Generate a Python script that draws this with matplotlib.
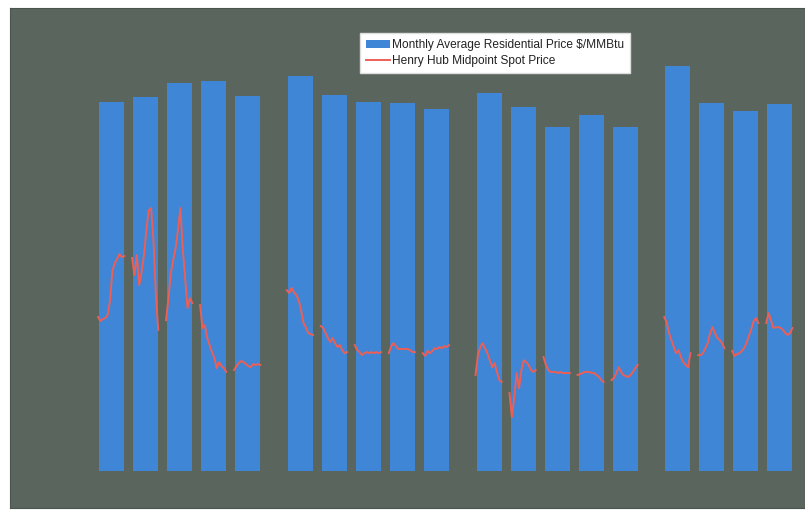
import numpy as np
import matplotlib
matplotlib.use("Agg")
import matplotlib.pyplot as plt

# bars: one per year, 4 groups (5, 5, 5, 4)
group_sizes = [5, 5, 5, 4]
residential_price = [13.18, 13.36, 13.86, 13.93, 13.39,
                     14.11, 13.43, 13.18, 13.14, 12.93,
                     13.50, 13.00, 12.29, 12.71, 12.29,
                     14.46, 13.14, 12.86, 13.11]

# Henry Hub spot price, 12 monthly readings per bar
spot_price = [
    [5.50, 5.36, 5.43, 5.46, 5.57, 6.07, 7.14, 7.43, 7.57, 7.75, 7.64, 7.68],
    [7.61, 7.00, 7.71, 6.64, 7.11, 7.71, 8.61, 9.32, 9.39, 8.21, 6.29, 5.04],
    [5.39, 6.18, 7.07, 7.54, 7.96, 8.61, 9.39, 7.96, 6.89, 5.82, 6.18, 6.00],
    [5.93, 5.11, 5.21, 4.75, 4.50, 4.25, 4.04, 3.68, 3.89, 3.75, 3.68, 3.54],
    [3.61, 3.75, 3.86, 3.93, 3.89, 3.82, 3.75, 3.71, 3.82, 3.79, 3.82, 3.79],
    [6.46, 6.36, 6.54, 6.39, 6.29, 6.11, 5.75, 5.29, 5.14, 4.93, 4.89, 4.86],
    [5.18, 5.11, 4.93, 4.75, 4.61, 4.75, 4.57, 4.43, 4.50, 4.32, 4.21, 4.25],
    [4.50, 4.32, 4.25, 4.14, 4.21, 4.25, 4.21, 4.25, 4.21, 4.25, 4.21, 4.25],
    [4.21, 4.46, 4.57, 4.46, 4.36, 4.36, 4.36, 4.36, 4.36, 4.32, 4.25, 4.25],
    [4.21, 4.11, 4.29, 4.21, 4.29, 4.39, 4.36, 4.43, 4.39, 4.46, 4.43, 4.50],
    [3.43, 4.14, 4.43, 4.57, 4.39, 4.21, 3.96, 3.71, 3.86, 3.54, 3.25, 3.18],
    [2.79, 1.93, 2.64, 3.50, 2.96, 3.61, 3.96, 3.89, 3.79, 3.61, 3.54, 3.61],
    [4.07, 3.79, 3.61, 3.54, 3.54, 3.54, 3.50, 3.54, 3.50, 3.50, 3.50, 3.50],
    [3.43, 3.46, 3.50, 3.54, 3.54, 3.54, 3.50, 3.50, 3.43, 3.36, 3.25, 3.18],
    [3.25, 3.32, 3.50, 3.71, 3.54, 3.43, 3.39, 3.36, 3.43, 3.54, 3.68, 3.79],
    [5.50, 5.32, 4.93, 4.68, 4.43, 4.21, 4.32, 4.07, 3.89, 3.79, 3.71, 4.21],
    [4.14, 4.14, 4.21, 4.39, 4.57, 4.93, 5.14, 4.93, 4.75, 4.68, 4.57, 4.39],
    [4.29, 4.11, 4.18, 4.21, 4.29, 4.39, 4.57, 4.82, 5.07, 5.36, 5.46, 5.29],
    [5.29, 5.64, 5.39, 5.11, 5.14, 5.14, 5.11, 5.04, 4.93, 4.86, 4.93, 5.11],
]

legend_labels = ["Monthly Average Residential Price $/MMBtu",
                 "Henry Hub Midpoint Spot Price"]


def bar_positions(sizes, group_gap=0.55):
    """Left edge of every bar, with extra space between groups."""
    pos = []
    i = 0
    for g, n in enumerate(sizes):
        for _ in range(n):
            pos.append(i + group_gap * g)
            i += 1
    return np.array(pos)


def main():
    plt.rcParams['font.family'] = ['Liberation Sans', 'DejaVu Sans']

    bg = '#5a665d'
    bar_color = '#3f86d6'
    line_color = '#ec5f56'
    width = 0.74

    fig = plt.figure(figsize=(8.05, 5.14), dpi=100, facecolor='white')
    ax = fig.add_axes([10 / 805, 6 / 514, 795 / 805, 500 / 514])
    ax.set_facecolor(bg)

    left = bar_positions(group_sizes)
    bars = ax.bar(left, residential_price, width=width, align='edge',
                  color=bar_color, edgecolor='none')

    line = None
    for x0, vals in zip(left, spot_price):
        xs = np.linspace(x0 - 0.03, x0 + width, len(vals))
        line, = ax.plot(xs, vals, color=line_color, lw=1.4)

    ax.set_xlim(-2.62, 20.76)
    ax.set_ylim(-1.32, 16.54)
    ax.set_xticks([])
    ax.set_yticks([])
    for s in ax.spines.values():
        s.set_color('#4b544e')
        s.set_linewidth(0.8)

    leg = ax.legend([bars, line], legend_labels,
                    loc='upper left', bbox_to_anchor=(360 / 805, 1 - 33 / 514),
                    bbox_transform=fig.transFigure, borderaxespad=0,
                    frameon=True, fancybox=False, framealpha=1,
                    facecolor='white', edgecolor='#dddddd',
                    fontsize=8.6, handlelength=2.0, handleheight=0.6,
                    handletextpad=0.2, labelspacing=0.35, borderpad=0.5)
    for t in leg.get_texts():
        t.set_color('#222222')

    fig.savefig('out.png', dpi=100, facecolor='white')


if __name__ == "__main__":
    main()
